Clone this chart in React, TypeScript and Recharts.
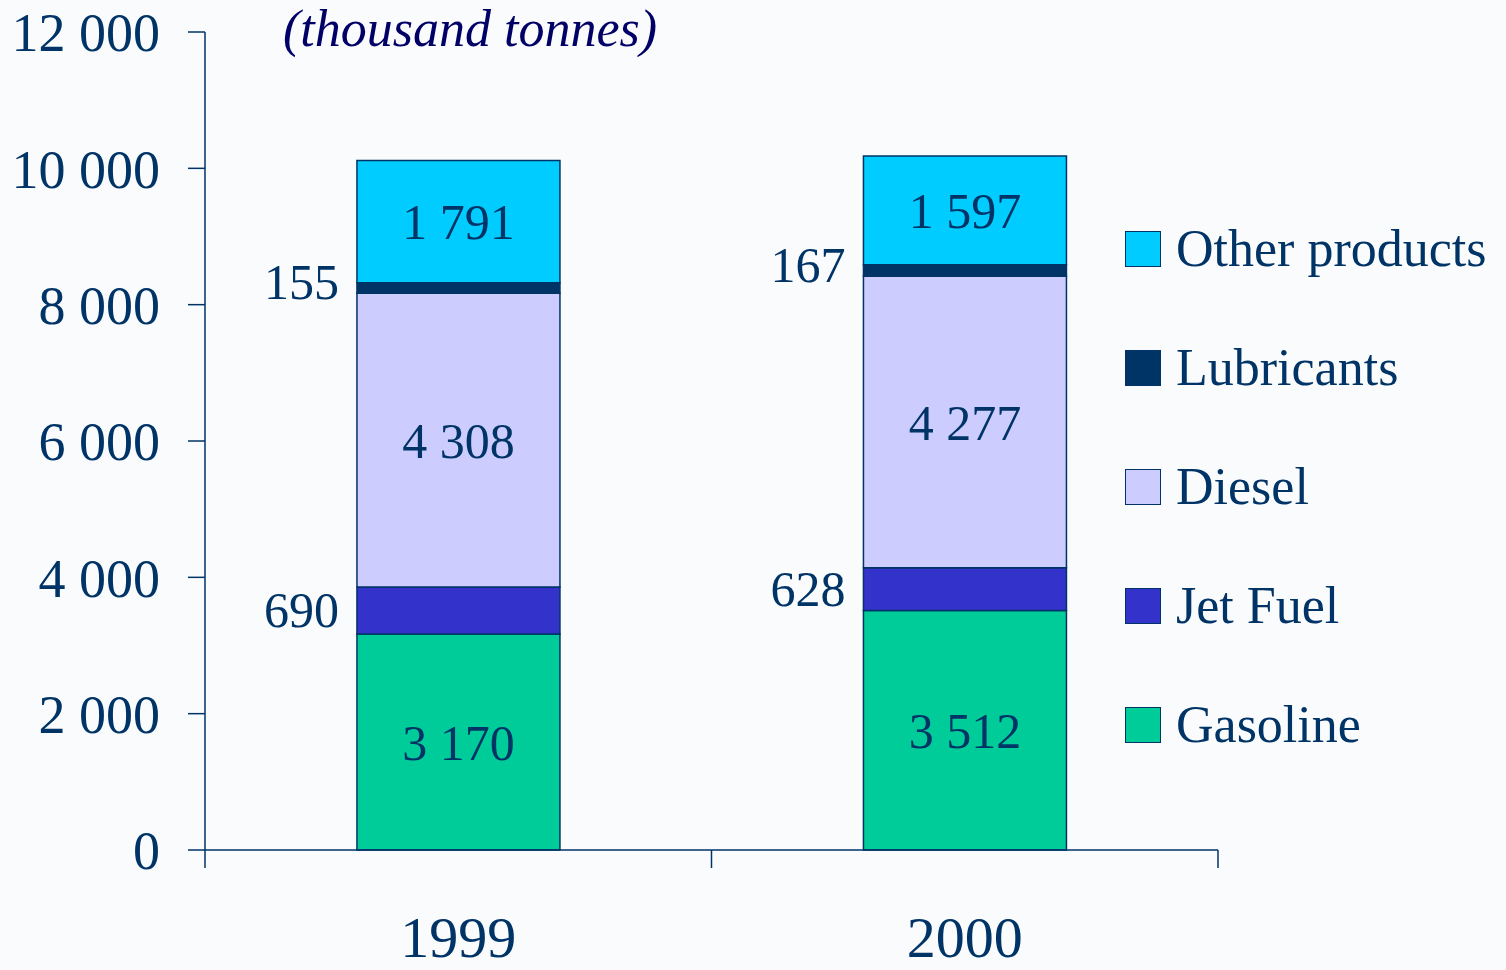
import React from 'react';
import { BarChart, Bar, XAxis, YAxis, Legend, LabelList } from 'recharts';

const years = ['1999', '2000'];
const gasoline = [3170, 3512];
const jetFuel = [690, 628];
const diesel = [4308, 4277];
const lubricants = [155, 167];
const otherProducts = [1791, 1597];
const yTicks = [0, 2000, 4000, 6000, 8000, 10000, 12000];

const seriesNames = ['Gasoline', 'Jet Fuel', 'Diesel', 'Lubricants', 'Other products'];

const data = years.map((year, i) => ({
  year,
  gasoline: gasoline[i],
  jetFuel: jetFuel[i],
  diesel: diesel[i],
  lubricants: lubricants[i],
  otherProducts: otherProducts[i],
  edge: i,
}));

const NAVY = '#003366';
const FONT = '"Liberation Serif", "Times New Roman", serif';

const fmt = (v: any) => String(v).replace(/\B(?=(\d{3})+(?!\d))/g, ' ');

const CatTick = (props: any) => {
  const { x, y, payload } = props;
  return (
    <text x={x} y={y} dy={105} textAnchor="middle" fill={NAVY} fontSize={58} fontFamily={FONT}>
      {payload.value}
    </text>
  );
};

const renderLegend = (props: any) => {
  const payload = props.payload || [];
  const items = [...seriesNames]
    .reverse()
    .map((n) => payload.find((p: any) => p.value === n))
    .filter(Boolean);
  return (
    <div style={{ fontFamily: FONT }}>
      {items.map((it: any) => (
        <div key={it.value} style={{ display: 'flex', alignItems: 'center', height: 119 }}>
          <div
            style={{
              width: 36,
              height: 36,
              background: it.color,
              border: `1.5px solid ${NAVY}`,
              boxSizing: 'border-box',
              flexShrink: 0,
            }}
          />
          <span style={{ marginLeft: 15, fontSize: 52, color: NAVY, lineHeight: 1, whiteSpace: 'nowrap' }}>
            {it.value}
          </span>
        </div>
      ))}
    </div>
  );
};

const labelStyle = { fill: NAVY, fontSize: 50, fontFamily: FONT };

const SideLabel = (dyShift: number) => (props: any) => {
  const { x, y, height, value } = props;
  return (
    <text
      x={x - 18}
      y={y + height / 2 + dyShift}
      textAnchor="end"
      dominantBaseline="central"
      fill={NAVY}
      fontSize={50}
      fontFamily={FONT}
    >
      {fmt(value)}
    </text>
  );
};

export default function App() {
  return (
    <div style={{ position: 'absolute', left: 0, top: 0, width: 1506, height: 970, background: '#FAFBFD' }}>
      <BarChart
        width={1506}
        height={970}
        data={data}
        margin={{ top: 32, right: 288, left: 0, bottom: 0 }}
        barCategoryGap="30%"
      >
        <XAxis
          xAxisId="base"
          dataKey="edge"
          type="number"
          domain={[0, 2]}
          ticks={[0, 1, 2]}
          allowDataOverflow
          height={2}
          tickSize={18}
          tickLine={{ stroke: NAVY, strokeWidth: 1.5 }}
          axisLine={{ stroke: NAVY, strokeWidth: 1.5 }}
          tickFormatter={() => ''}
          interval={0}
        />
        <XAxis
          xAxisId="cat"
          dataKey="year"
          height={118}
          axisLine={false}
          tickLine={false}
          tickSize={0}
          tickMargin={0}
          tick={<CatTick />}
          interval={0}
        />
        <YAxis
          width={205}
          domain={[0, 12000]}
          ticks={yTicks}
          interval={0}
          tickSize={17}
          tickMargin={28}
          tickFormatter={fmt}
          tick={{ fill: NAVY, fontSize: 54, fontFamily: FONT }}
          tickLine={{ stroke: NAVY, strokeWidth: 1.5 }}
          axisLine={{ stroke: NAVY, strokeWidth: 1.5 }}
        />
        <Legend
          layout="vertical"
          align="center"
          verticalAlign="middle"
          content={renderLegend}
          wrapperStyle={{ left: 1125, top: 189, width: 380, height: 600 }}
        />
        <Bar xAxisId="cat" dataKey="gasoline" name={seriesNames[0]} stackId="a" fill="#00CC99" stroke={NAVY} strokeWidth={1.5} isAnimationActive={false}>
          <LabelList dataKey="gasoline" position="center" formatter={fmt} style={labelStyle} />
        </Bar>
        <Bar xAxisId="cat" dataKey="jetFuel" name={seriesNames[1]} stackId="a" fill="#3333CC" stroke={NAVY} strokeWidth={1.5} isAnimationActive={false}>
          <LabelList dataKey="jetFuel" content={SideLabel(0)} />
        </Bar>
        <Bar xAxisId="cat" dataKey="diesel" name={seriesNames[2]} stackId="a" fill="#CCCCFF" stroke={NAVY} strokeWidth={1.5} isAnimationActive={false}>
          <LabelList dataKey="diesel" position="center" formatter={fmt} style={labelStyle} />
        </Bar>
        <Bar xAxisId="cat" dataKey="lubricants" name={seriesNames[3]} stackId="a" fill="#003366" stroke={NAVY} strokeWidth={1.5} isAnimationActive={false}>
          <LabelList dataKey="lubricants" content={SideLabel(-6)} />
        </Bar>
        <Bar xAxisId="cat" dataKey="otherProducts" name={seriesNames[4]} stackId="a" fill="#00CCFF" stroke={NAVY} strokeWidth={1.5} isAnimationActive={false}>
          <LabelList dataKey="otherProducts" position="center" formatter={fmt} style={labelStyle} />
        </Bar>
      </BarChart>
      <svg width={1506} height={970} style={{ position: 'absolute', left: 0, top: 0, pointerEvents: 'none' }}>
        <text x={283} y={46} fill="#000066" fontSize={52} fontStyle="italic" fontFamily={FONT}>
          (thousand tonnes)
        </text>
      </svg>
    </div>
  );
}
